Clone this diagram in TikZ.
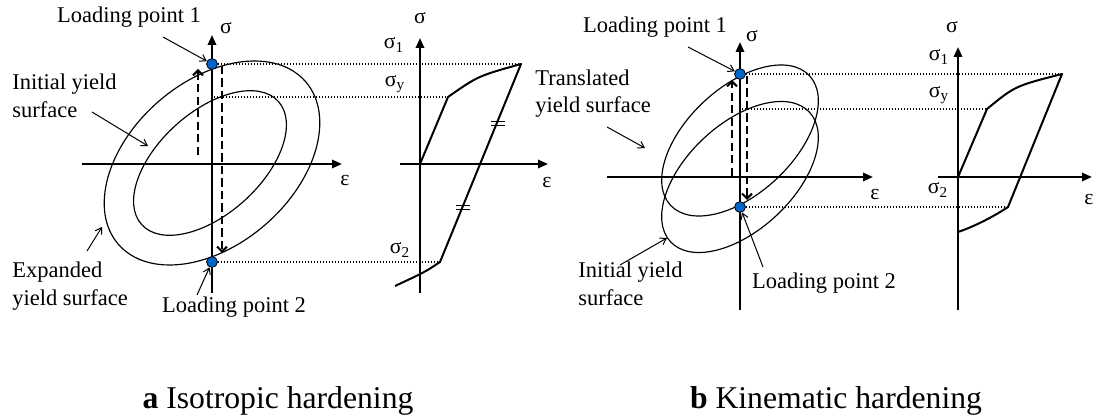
\documentclass[tikz,border=0pt]{standalone}
\usepackage{fontspec}
\setmainfont{Liberation Serif}
\usepackage{xcolor}
\usetikzlibrary{arrows.meta,calc,positioning}
\definecolor{ptblue}{RGB}{0,102,204}

\begin{document}
\begin{tikzpicture}[x=0.6pt,y=-0.6pt,
  axis/.style={line width=1.3pt,-{Triangle[length=6pt,width=5pt]}},
  surf/.style={line width=0.7pt},
  resp/.style={line width=1.2pt,line join=round},
  guide/.style={line width=0.7pt,dash pattern=on 0.7pt off 1.1pt},
  loadpath/.style={line width=1.2pt,dash pattern=on 5pt off 2.5pt,-{Straight Barb[length=3pt,width=6pt]}},
  ptr/.style={line width=0.6pt,-{Straight Barb[length=3.5pt,width=4.5pt]}},
  lbl/.style={font=\fontsize{13.5}{16.5}\selectfont,inner sep=0pt,align=left},
  sym/.style={font=\fontsize{13}{15}\selectfont,inner sep=0pt},
  ldpt/.style={circle,draw,line width=0.5pt,fill=ptblue,inner sep=0pt,minimum size=6.5pt},
  capt/.style={font=\fontsize{19}{22}\selectfont,inner sep=0pt}]
\useasboundingbox (0,0) rectangle (1095,419);

% ---- a: isotropic hardening, stress space
\draw[surf,rotate around={41:(212,163)}] (212,163) ellipse [x radius=124,y radius=81.5];
\draw[surf,rotate around={42:(210,163)}] (210,163) ellipse [x radius=92,y radius=51];
\draw[axis] (82,164) -- (342,164);
\draw[axis] (212,293) -- (212,35);
\node[sym] (sigA) at (226,28) {σ};
\node[sym] (epsA) at (345,181) {ε};
\coordinate (upA0) at (198,155);  \coordinate (upA1) at (198,69);
\coordinate (dnA0) at (222,66);   \coordinate (dnA1) at (222,253);
\draw[loadpath] (upA0) -- (upA1);
\draw[loadpath] (dnA0) -- (dnA1);
\node[ldpt] (P1a) at (212,64) {};
\node[ldpt] (P2a) at (212,262) {};

% ---- a: stress-strain response
\coordinate (oA) at (420,164);
\coordinate (yA) at (448,97);
\coordinate (tipA) at (521,64);
\coordinate (lowA) at (440,262);
\draw[axis] (400,164) -- (548,164);
\draw[axis] (420,293) -- (420,38);
\draw[resp] (oA) -- (yA) .. controls (478,76) .. (tipA) -- (lowA) .. controls (425,272) .. (395,286);
\draw[line width=0.6pt] (491,122) -- (505,122) (491,126) -- (505,126);
\draw[line width=0.6pt] (456,206) -- (470,206) (456,210) -- (470,210);
\draw[guide] (P1a.east) -- (tipA);
\draw[guide] (214,97) -- (yA);
\draw[guide] (P2a.east) -- (lowA);
\node[sym] (sigA2) at (420,18) {σ};
\node[sym] (s1A) at (394,45) {σ\textsubscript{1}};
\node[sym] (syA) at (395,84) {σ\textsubscript{y}};
\node[sym] (s2A) at (400,250) {σ\textsubscript{2}};
\node[sym] (epsA2) at (547,183) {ε};

% ---- a: labels
\node[lbl] (LP1a) at (129,17) {Loading point 1};
\node[lbl,anchor=west] (IYa) at (12,96) {Initial yield\\surface};
\node[lbl,anchor=west] (EYa) at (12,286) {Expanded\\yield surface};
\node[lbl] (LP2a) at (234,307) {Loading point 2};
\coordinate (q1a) at (163,37);
\coordinate (qia0) at (92,112);  \coordinate (qia1) at (148,146);
\coordinate (qea0) at (87,251);  \coordinate (qea1) at (102,227);
\coordinate (q2a) at (197,295);
\draw[ptr] (q1a) -- (P1a);
\draw[ptr] (qia0) -- (qia1);
\draw[ptr] (qea0) -- (qea1);
\draw[ptr] (q2a) -- (P2a);

% ---- b: kinematic hardening, stress space
\draw[surf,rotate around={43:(740,177)}] (740,177) ellipse [x radius=95,y radius=53];
\draw[surf,rotate around={43:(740,140.5)}] (740,140.5) ellipse [x radius=95,y radius=53];
\draw[axis] (607,177) -- (873,177);
\draw[axis] (740,310) -- (740,42);
\node[sym] (sigB) at (752,36) {σ};
\node[sym] (epsB) at (875,195) {ε};
\coordinate (upB0) at (732,176);  \coordinate (upB1) at (732,80);
\coordinate (dnB0) at (747,76);   \coordinate (dnB1) at (747,200);
\draw[loadpath] (upB0) -- (upB1);
\draw[loadpath] (dnB0) -- (dnB1);
\node[ldpt] (P1b) at (740,74) {};
\node[ldpt] (P2b) at (740,207) {};

% ---- b: stress-strain response
\coordinate (oB) at (958,177);
\coordinate (yB) at (987,109);
\coordinate (tipB) at (1062,74);
\coordinate (lowB) at (1008,207);
\draw[axis] (938,177) -- (1092,177);
\draw[axis] (958,310) -- (958,47);
\draw[resp] (oB) -- (yB) .. controls (1015,86) .. (tipB) -- (lowB) .. controls (990,219) and (970,228) .. (958,232);
\draw[guide] (P1b.east) -- (tipB);
\draw[guide] (742,109) -- (yB);
\draw[guide] (P2b.east) -- (lowB);
\node[sym] (sigB2) at (952,27) {σ};
\node[sym] (s1B) at (939,57) {σ\textsubscript{1}};
\node[sym] (syB) at (939,95) {σ\textsubscript{y}};
\node[sym] (s2B) at (938,190) {σ\textsubscript{2}};
\node[sym] (epsB2) at (1089,200) {ε};

% ---- b: labels
\node[lbl] (LP1b) at (655,27) {Loading point 1};
\node[lbl,anchor=west] (TYb) at (535,93.5) {Translated\\yield surface};
\node[lbl,anchor=west] (IYb) at (578,284) {Initial yield\\surface};
\node[lbl] (LP2b) at (824,283) {Loading point 2};
\coordinate (q1b) at (688,47);
\coordinate (qtb0) at (607,127);  \coordinate (qtb1) at (645,148);
\coordinate (qib0) at (620,265);  \coordinate (qib1) at (667,238);
\coordinate (q2b) at (763,267);
\draw[ptr] (q1b) -- (P1b);
\draw[ptr] (qtb0) -- (qtb1);
\draw[ptr] (qib0) -- (qib1);
\draw[ptr] (q2b) -- (P2b);

% ---- captions
\node[capt,anchor=base] (capA) at (278,408) {\textbf{a} Isotropic hardening};
\node[capt,anchor=base] (capB) at (836,408) {\textbf{b} Kinematic hardening};
\end{tikzpicture}
\end{document}
